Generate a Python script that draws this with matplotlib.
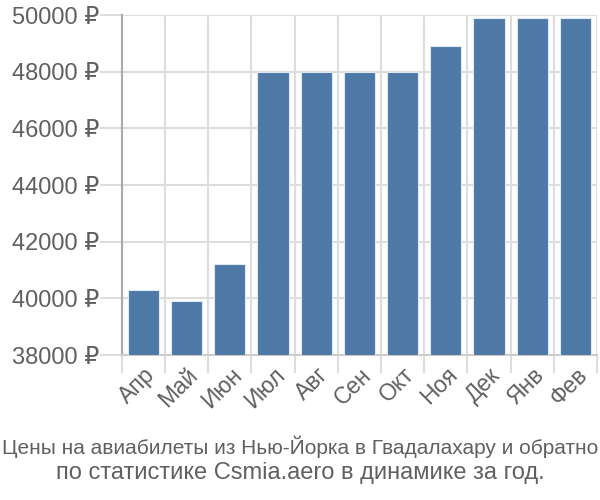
import matplotlib
matplotlib.use("Agg")
import matplotlib.pyplot as plt
from matplotlib import font_manager
from matplotlib.ticker import FuncFormatter, MultipleLocator, FixedLocator
import numpy as np

plt.rcParams["font.family"] = ["Liberation Sans", "DejaVu Sans"]

months = ["Апр", "Май", "Июн", "Июл", "Авг", "Сен", "Окт", "Ноя", "Дек", "Янв", "Фев"]
prices = [40300, 39900, 41200, 47990, 47990, 47990, 47990, 48900, 49890, 49890, 49890]
title_1 = "Цены на авиабилеты из Нью-Йорка в Гвадалахару и обратно"
title_2 = "по статистике Csmia.aero в динамике за год."

BAR = "#4e79a7"
TEXT = "#606060"
GRID = "#dddddd"

fig = plt.figure(figsize=(6, 5), dpi=100)
ax = fig.add_axes([0.203, 0.29, 0.792, 0.68])

x = np.arange(len(months))
ax.bar(x, prices, width=0.72, color=BAR, edgecolor="#dfe8f2", linewidth=0.8, zorder=3)

ax.set_xlim(-0.5, len(months) - 0.5)
ax.set_ylim(38000, 50000)
ax.yaxis.set_major_locator(MultipleLocator(2000))
ax.yaxis.set_major_formatter(FuncFormatter(lambda v, _: f"{v:.0f} ₽"))

ax.set_xticks(x)
ax.set_xticklabels(months, rotation=45, ha="right", va="top", rotation_mode="anchor")
ax.xaxis.set_minor_locator(FixedLocator(np.arange(-0.5, len(months), 1.0)))

# tick lengths in points: ~22 px and ~18 px at 100 dpi
ax.grid(axis="y", color=GRID, linewidth=1.5, zorder=0)
ax.grid(axis="x", which="minor", color=GRID, linewidth=1.5, zorder=0)
ax.tick_params(axis="x", which="major", length=0, pad=6, labelsize=16.5, labelcolor=TEXT)
ax.tick_params(axis="x", which="minor", length=13, width=1.5, color=GRID)
ax.tick_params(axis="y", length=16, width=1.5, color=GRID, pad=0, labelsize=17, labelcolor=TEXT)

for s in ["top", "right"]:
    ax.spines[s].set_visible(False)
ax.spines["left"].set_color("#aaaaaa")
ax.spines["left"].set_linewidth(1.5)
ax.spines["bottom"].set_color("#cccccc")
ax.spines["bottom"].set_linewidth(1.5)

# first title line is squeezed to the figure width in the original
fig.text(0.5, 0.106, title_1, ha="center", va="center", fontsize=15, color=TEXT)
fig.text(0.5, 0.054, title_2, ha="center", va="center", fontsize=17, color=TEXT)

fig.savefig("out.png", dpi=100)
